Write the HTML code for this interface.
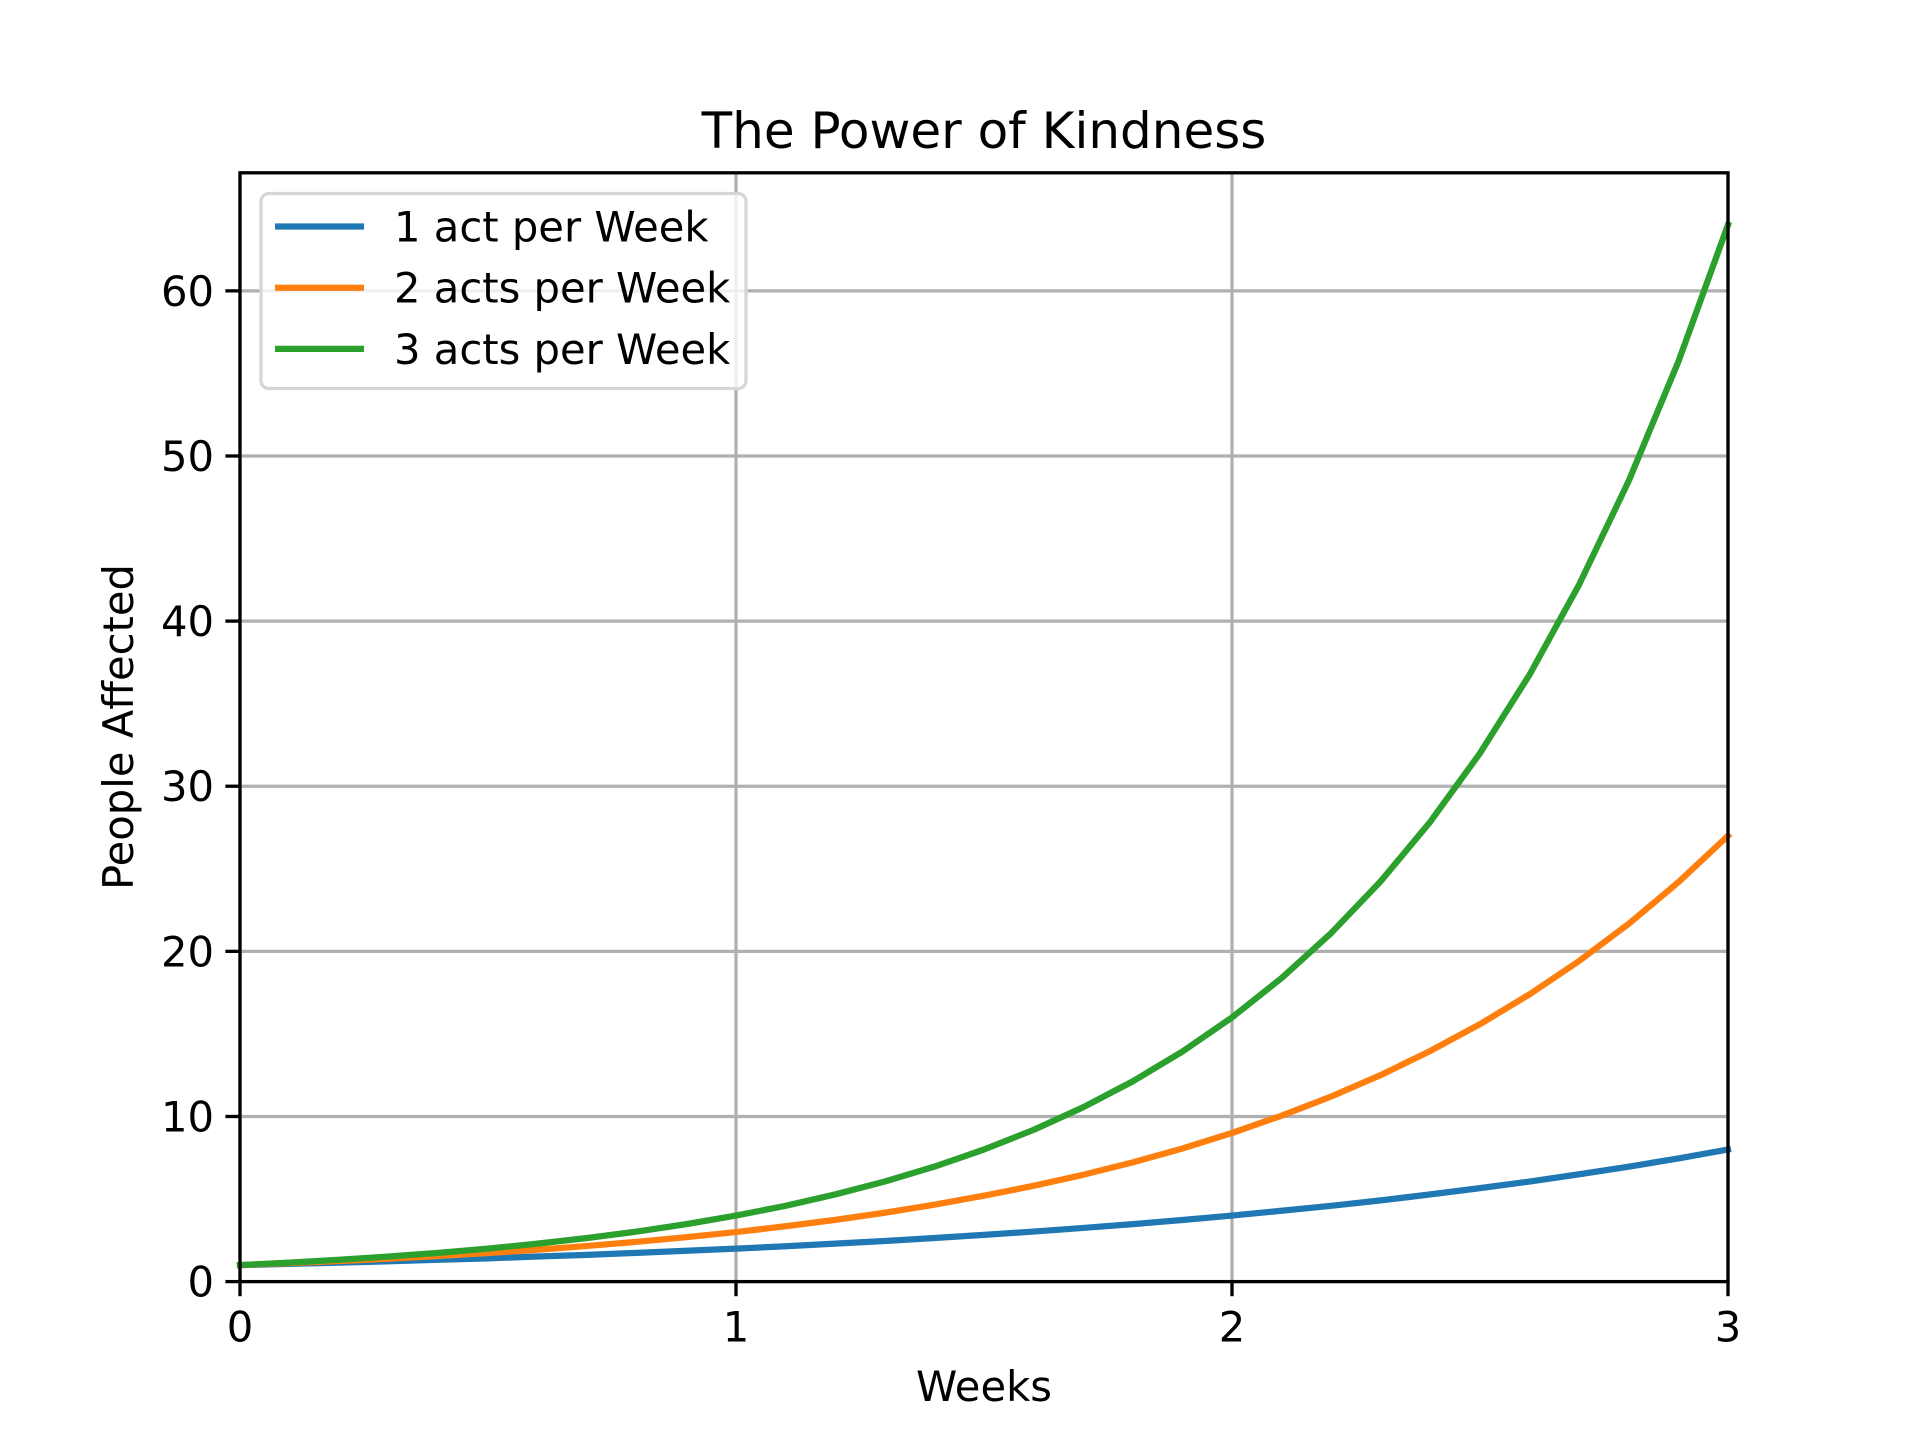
<!DOCTYPE html>
<html><head><meta charset="utf-8"><style>
html,body{margin:0;padding:0;background:#fff;width:1920px;height:1440px;overflow:hidden;}
svg{display:block;}
svg text{font-family:"DejaVu Sans","Liberation Sans",sans-serif;fill:#000;}
</style></head><body>
<svg id="chart" width="1920" height="1440" viewBox="0 0 1920 1440" xmlns="http://www.w3.org/2000/svg">
<rect width="1920" height="1440" fill="#fff"/>
<g id="grid"></g>
<g id="series"></g>
<rect x="240" y="172.8" width="1488" height="1108.8" fill="none" stroke="#000" stroke-width="3.3"/>
<g id="ticks"></g>
<text x="984" y="148" font-size="50" text-anchor="middle">The Power of Kindness</text>
<text x="984" y="1401" font-size="41.7" text-anchor="middle">Weeks</text>
<text transform="translate(133,727) rotate(-90)" font-size="41.7" text-anchor="middle">People Affected</text>
<g id="legend">
<rect x="261" y="193.5" width="485" height="195" rx="8" fill="#fff" fill-opacity="0.8" stroke="#d6d6d6" stroke-width="3.3"/>
</g>
</svg>
<script>
const weeks=[0,0.1,0.2,0.3,0.4,0.5,0.6,0.7,0.8,0.9,1,1.1,1.2,1.3,1.4,1.5,1.6,1.7,1.8,1.9,2,2.1,2.2,2.3,2.4,2.5,2.6,2.7,2.8,2.9,3];
const oneAct=[1,1.07,1.15,1.23,1.32,1.41,1.52,1.62,1.74,1.87,2,2.14,2.30,2.46,2.64,2.83,3.03,3.25,3.48,3.73,4,4.29,4.59,4.92,5.28,5.66,6.06,6.50,6.96,7.46,8];
const twoActs=[1,1.12,1.25,1.39,1.55,1.73,1.93,2.16,2.41,2.69,3,3.35,3.74,4.17,4.66,5.20,5.80,6.47,7.22,8.06,9,10.05,11.21,12.51,13.97,15.59,17.40,19.42,21.67,24.19,27];
const threeActs=[1,1.15,1.32,1.52,1.74,2,2.30,2.64,3.03,3.48,4,4.59,5.28,6.06,6.96,8,9.19,10.56,12.13,13.93,16,18.38,21.11,24.25,27.86,32,36.76,42.22,48.50,55.72,64];
const seriesNames=["1 act per Week","2 acts per Week","3 acts per Week"];
const xTicks=[0,1,2,3];
const yTicks=[0,10,20,30,40,50,60];
const NS="http://www.w3.org/2000/svg";
const L=240,R=1728,T=172.8,B=1281.6,XMAX=3,YMAX=67.15;
const sx=v=>L+v/XMAX*(R-L);
const sy=v=>B-v/YMAX*(B-T);
function mk(tag,attrs,parent){const e=document.createElementNS(NS,tag);for(const k in attrs)e.setAttribute(k,attrs[k]);parent.appendChild(e);return e;}
const grid=document.getElementById('grid'),ticks=document.getElementById('ticks'),ser=document.getElementById('series'),leg=document.getElementById('legend');
xTicks.forEach(t=>{
  const g=mk('line',{x1:sx(t),x2:sx(t),y1:T,y2:B,stroke:'#b0b0b0','stroke-width':3.3},grid);
  
  
  const tk=mk('line',{x1:sx(t),x2:sx(t),y1:B,y2:B+14.6,stroke:'#000','stroke-width':3.3},ticks);
  
  
  const tx=mk('text',{x:sx(t),y:B+60,'font-size':41.7,'text-anchor':'middle'},ticks);
  tx.textContent=t;
  
  
});
yTicks.forEach(t=>{
  const g=mk('line',{x1:L,x2:R,y1:sy(t),y2:sy(t),stroke:'#b0b0b0','stroke-width':3.3},grid);
  
  
  const tk=mk('line',{x1:L-14.6,x2:L,y1:sy(t),y2:sy(t),stroke:'#000','stroke-width':3.3},ticks);
  
  
  const tx=mk('text',{x:L-26,y:sy(t)+15,'font-size':41.7,'text-anchor':'end'},ticks);
  tx.textContent=t;
  
  
});
const colors=['#1f77b4','#ff7f0e','#2ca02c'];
[oneAct,twoActs,threeActs].forEach((vals,i)=>{
  const p=mk('polyline',{points:weeks.map((w,j)=>sx(w)+','+sy(vals[j])).join(' '),fill:'none',stroke:colors[i],'stroke-width':6.25,'stroke-linejoin':'round','stroke-linecap':'square'},ser);
  
  
  const y=226.5+i*61.2;
  const ll=mk('line',{x1:275,x2:364,y1:y,y2:y,stroke:colors[i],'stroke-width':6.25},leg);
  
  
  const lt=mk('text',{x:394,y:y+15,'font-size':41.7},leg);
  lt.textContent=seriesNames[i];
  
  
});
</script>
</body></html>
